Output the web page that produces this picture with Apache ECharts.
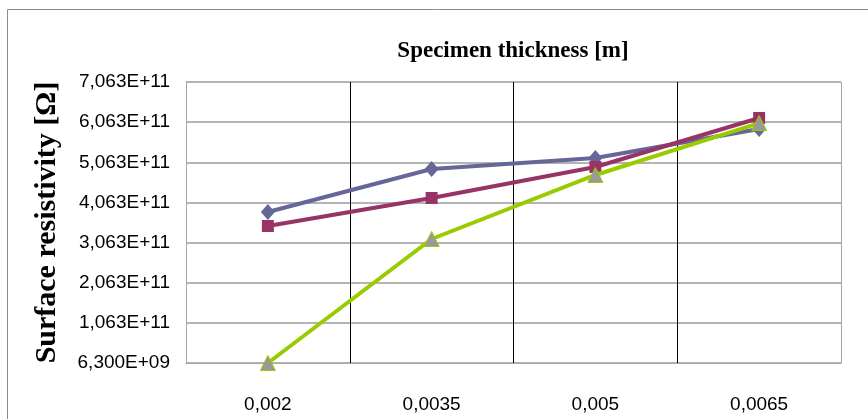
<!DOCTYPE html>
<html>
<head>
<meta charset="utf-8">
<script src="https://cdn.jsdelivr.net/npm/echarts@6/dist/echarts.min.js"></script>
<style>
  html, body { margin: 0; padding: 0; background: #fff; }
  #chart { width: 868px; height: 419px; }
</style>
</head>
<body>
<div id="chart"></div>
<script>
// categories (specimen thickness, m)
var thickness = ['0,002', '0,0035', '0,005', '0,0065'];
// surface resistivity values, Ohm
var seriesA = [3.825e11, 4.896e11, 5.17e11, 5.89e11];
var seriesB = [3.476e11, 4.173e11, 4.946e11, 6.167e11];
var seriesC = [6.3e9, 3.152e11, 4.747e11, 6.04e11];
// y tick labels, bottom to top
var yTickLabels = ['6,300E+09', '1,063E+11', '2,063E+11', '3,063E+11', '4,063E+11', '5,063E+11', '6,063E+11', '7,063E+11'];

var chart = echarts.init(document.getElementById('chart'));

var narrow = '"Liberation Sans Narrow", "Arial Narrow", "Liberation Sans", sans-serif';
var serif = '"Liberation Serif", "Times New Roman", serif';

var option = {
    animation: false,
    backgroundColor: '#fff',
    graphic: [{
        type: 'rect',
        shape: { x: 7.5, y: 9.5, width: 900, height: 450 },
        style: { fill: 'none', stroke: '#8c8c8c', lineWidth: 1 },
        silent: true
    }],
    title: {
        text: 'Specimen thickness [m]',
        left: 508,
        top: 35,
        textAlign: 'center',
        textStyle: { fontFamily: serif, fontWeight: 'bold', fontSize: 23, color: '#000' }
    },
    grid: { left: 186, right: 27, top: 82, bottom: 56 },
    xAxis: {
        type: 'category',
        data: thickness,
        boundaryGap: true,
        axisLine: { lineStyle: { color: '#a6a6a6', width: 1 } },
        axisTick: { show: false },
        axisLabel: { fontFamily: narrow, fontSize: 19, color: '#000', margin: 32 },
        splitLine: { show: true, lineStyle: { color: ['#a6a6a6', '#000', '#000', '#000'], width: 1 } }
    },
    yAxis: {
        type: 'value',
        min: 6.3e9,
        max: 7.063e11,
        interval: 1e11,
        name: 'Surface resistivity [Ω]',
        nameLocation: 'middle',
        nameGap: 124,
        nameTextStyle: { fontFamily: serif, fontWeight: 'bold', fontSize: 30, color: '#000' },
        axisLine: { show: true, lineStyle: { color: '#a6a6a6', width: 1 } },
        axisTick: { show: false },
        axisLabel: {
            fontFamily: narrow, fontSize: 19, color: '#000', margin: 16,
            formatter: function (v, i) { return yTickLabels[i]; }
        },
        splitLine: { show: true, lineStyle: { color: '#b4b4b4', width: 2 } }
    },
    series: [{
        type: 'line',
        data: seriesA,
        symbol: 'diamond',
        symbolSize: [14, 16],
        lineStyle: { color: '#666699', width: 4 },
        itemStyle: { color: '#666699' },
        z: 3
    }, {
        type: 'line',
        data: seriesB,
        symbol: 'rect',
        symbolSize: 12,
        lineStyle: { color: '#993366', width: 4 },
        itemStyle: { color: '#993366' },
        z: 4
    }, {
        type: 'line',
        data: seriesC,
        symbol: 'triangle',
        symbolSize: 15,
        lineStyle: { color: '#99cc00', width: 4 },
        itemStyle: { color: '#999999', borderColor: '#99cc00', borderWidth: 1 },
        z: 5
    }]
};

chart.setOption(option);
</script>
</body>
</html>
